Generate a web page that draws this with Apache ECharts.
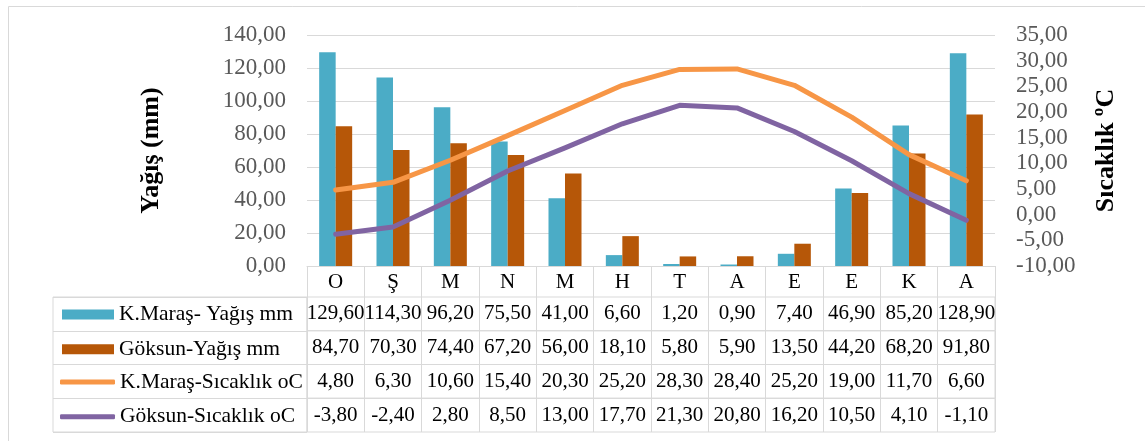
<!DOCTYPE html>
<html><head><meta charset="utf-8">
<script src="https://cdn.jsdelivr.net/npm/echarts@6/dist/echarts.min.js"></script>
<style>html,body{margin:0;padding:0;background:#fff}#c{width:1145px;height:441px}</style>
</head><body><div id="c"></div>
<script>
// ---- data ----
const months = ['O','Ş','M','N','M','H','T','A','E','E','K','A'];
const kmRain = [129.6,114.3,96.2,75.5,41.0,6.6,1.2,0.9,7.4,46.9,85.2,128.9];
const gkRain = [84.7,70.3,74.4,67.2,56.0,18.1,5.8,5.9,13.5,44.2,68.2,91.8];
const kmTemp = [4.8,6.3,10.6,15.4,20.3,25.2,28.3,28.4,25.2,19.0,11.7,6.6];
const gkTemp = [-3.8,-2.4,2.8,8.5,13.0,17.7,21.3,20.8,16.2,10.5,4.1,-1.1];
const seriesNames = ['K.Maraş- Yağış mm','Göksun-Yağış mm','K.Maraş-Sıcaklık oC','Göksun-Sıcaklık oC'];
const leftAxisRange = [0, 140, 20];
const rightAxisRange = [-10, 35, 5];
const leftTitle = 'Yağış (mm)';
const rightTitle = 'Sıcaklık ºC';

// ---- chart ----
const FONT = 'Liberation Serif';
const GRID_C = '#D9D9D9';
const fmt = v => Number(v).toFixed(2).replace('.', ',');
const rows = [kmRain, gkRain, kmTemp, gkTemp];
const colors = ['#4BACC6', '#B65708', '#F79646', '#8064A2'];
const rowH = 33.75, tableTop = 297;

const grids = [{left:307, top:35, width:688, height:231, outerBoundsMode:'none'}];
const xAxes = [{
  type:'category', gridIndex:0, data:months,
  axisLine:{show:true, lineStyle:{color:GRID_C, width:1}},
  axisTick:{show:true, length:31, lineStyle:{color:GRID_C}},
  axisLabel:{color:'#000', fontSize:21, fontFamily:FONT, margin:6, interval:0},
  splitLine:{show:false}
}];
const yAxes = [
  {type:'value', gridIndex:0, position:'left', min:leftAxisRange[0], max:leftAxisRange[1], interval:leftAxisRange[2],
   axisLine:{show:false}, axisTick:{show:false},
   splitLine:{show:true, lineStyle:{color:GRID_C, width:1}},
   axisLabel:{color:'#595959', fontSize:23, fontFamily:FONT, margin:21, formatter:fmt},
   name:leftTitle, nameLocation:'middle', nameGap:143, nameRotate:90,
   nameTextStyle:{color:'#000', fontSize:26, fontWeight:'bold', fontFamily:FONT}},
  {type:'value', gridIndex:0, position:'right', min:rightAxisRange[0], max:rightAxisRange[1], interval:rightAxisRange[2],
   axisLine:{show:false}, axisTick:{show:false}, splitLine:{show:false},
   axisLabel:{color:'#595959', fontSize:23, fontFamily:FONT, margin:21, formatter:fmt},
   name:rightTitle, nameLocation:'middle', nameGap:98, nameRotate:90,
   nameTextStyle:{color:'#000', fontSize:26, fontWeight:'bold', fontFamily:FONT}}
];
rows.forEach((r, i) => {
  grids.push({left:307, top:tableTop + i*rowH, width:688, height:rowH, show:true,
    borderColor:GRID_C, borderWidth:1, backgroundColor:'transparent', outerBoundsMode:'none'});
  xAxes.push({type:'category', gridIndex:i+1, position:'top', data:r.map(fmt),
    axisLine:{show:false}, axisTick:{show:false},
    splitLine:{show:true, interval:0, lineStyle:{color:GRID_C, width:1}},
    axisLabel:{inside:true, margin:rowH/2, verticalAlign:'middle', interval:0,
      color:'#000', fontSize:21, fontFamily:FONT}});
  yAxes.push({type:'value', gridIndex:i+1, show:false});
});
// header column of the data table
grids.push({left:53, top:tableTop, width:254, height:4*rowH, show:true,
  borderColor:GRID_C, borderWidth:1, backgroundColor:'transparent', outerBoundsMode:'none'});
xAxes.push({type:'value', gridIndex:5, show:false});
yAxes.push({type:'category', gridIndex:5, data:seriesNames, inverse:true,
  axisLine:{show:false}, axisTick:{show:false}, axisLabel:{show:false},
  splitLine:{show:true, interval:0, lineStyle:{color:GRID_C, width:1}}});

const legText = {color:'#000', fontSize:21.5, fontFamily:FONT, lineHeight:21};
const option = {
  animation:false,
  textStyle:{fontFamily:FONT},
  grid:grids, xAxis:xAxes, yAxis:yAxes,
  legend:[
    {data:[{name:seriesNames[0], icon:'rect'},{name:seriesNames[1], icon:'rect'}],
     orient:'vertical', left:62, top:303.5, itemWidth:52, itemHeight:10, itemGap:rowH-21,
     padding:0, selectedMode:false, textStyle:legText},
    {data:[{name:seriesNames[2], icon:'roundRect'},{name:seriesNames[3], icon:'roundRect'}],
     orient:'vertical', left:60, top:tableTop + 2*rowH + 6.4, itemWidth:55, itemHeight:5, itemGap:rowH-21,
     padding:0, selectedMode:false, textStyle:legText}
  ],
  graphic:[{type:'rect', silent:true, z:-10, shape:{x:8.5, y:6.5, width:1150, height:450},
    style:{fill:'none', stroke:GRID_C, lineWidth:1}}],
  series:[
    {name:seriesNames[0], type:'bar', xAxisIndex:0, yAxisIndex:0, data:kmRain,
     barWidth:16.5, barGap:'0%', itemStyle:{color:colors[0]}},
    {name:seriesNames[1], type:'bar', xAxisIndex:0, yAxisIndex:0, data:gkRain,
     barWidth:16.5, barGap:'0%', itemStyle:{color:colors[1]}},
    {name:seriesNames[2], type:'line', xAxisIndex:0, yAxisIndex:1, data:kmTemp, symbol:'none', z:5,
     itemStyle:{color:colors[2]}, lineStyle:{color:colors[2], width:5, cap:'round', join:'round'}},
    {name:seriesNames[3], type:'line', xAxisIndex:0, yAxisIndex:1, data:gkTemp, symbol:'none', z:5,
     itemStyle:{color:colors[3]}, lineStyle:{color:colors[3], width:5, cap:'round', join:'round'}}
  ]
};
const chart = echarts.init(document.getElementById('c'), null, {renderer:'canvas'});
chart.setOption(option);
</script>
</body></html>
